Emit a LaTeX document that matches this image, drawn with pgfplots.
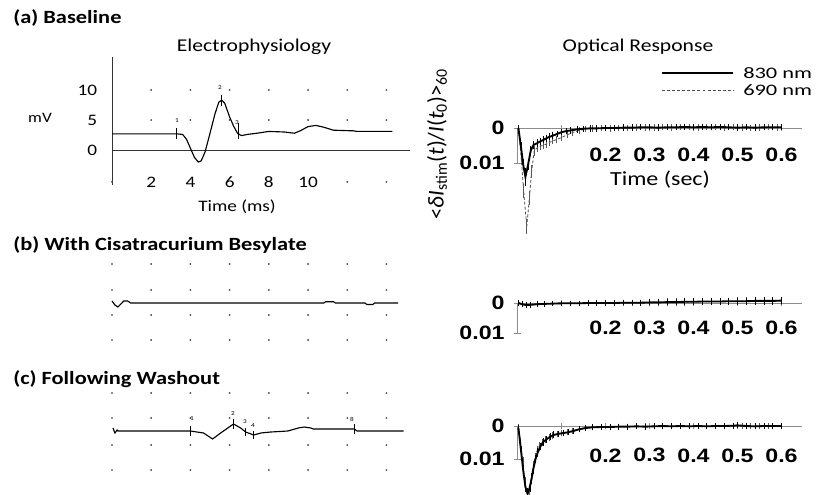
\documentclass[border=0pt]{standalone}
\usepackage{fontspec}
\setmainfont{Carlito}[FakeStretch=1.2]
\newfontfamily\plainfont{Carlito}
\newfontfamily\legfont{Carlito}[FakeStretch=1.4]
\newfontfamily\tickfont{Liberation Sans}[FakeStretch=1.2]
\usepackage{pgfplots}
\pgfplotsset{compat=1.18}

\pgfplotsset{
  ephys/.style={scale only axis, width=223.5pt, clip=false, xmin=0, xmax=15.2},
  trace/.style={black, line width=0.85pt, no marks},
  ticker/.style={only marks, mark=|, black, mark options={line width=0.6pt}, forget plot},
  dots/.style={only marks, mark=*, mark size=0.45pt, black!70, forget plot},
  optic/.style={scale only axis, width=213.5pt, clip=false,
    xmin=0, xmax=0.647, ymin=-0.01, ymax=0, scaled ticks=false,
    axis lines=middle, axis line style={-, black!45, line width=0.6pt},
    hide obscured x ticks=false, hide obscured y ticks=false,
    xtick={0.1,0.2,0.3,0.4,0.5,0.6}, xticklabels={,0.2,0.3,0.4,0.5,0.6},
    ytick={-0.01,0}, yticklabels={0.01,0},
    tick style={black!45, line width=0.6pt}, major tick length=5pt,
    tick label style={font=\tickfont\bfseries\fontsize{14.5}{14.5}\selectfont},
    yticklabel style={anchor=east, inner sep=0pt, xshift=-7pt}},
  s830/.style={black, line width=1.4pt, no marks,
    error bars/.cd, y dir=both, y explicit,
    error bar style={black, line width=0.4pt}, error mark options={black, mark size=1.6pt, line width=0.4pt}},
  s690/.style={black!70, line width=0.6pt, dash pattern=on 2.2pt off 1.5pt, no marks,
    error bars/.cd, y dir=both, y explicit,
    error bar style={black!65, line width=0.4pt, solid}, error mark options={black!65, mark size=1.6pt, line width=0.4pt, solid}},
}

\begin{document}
\begin{tikzpicture}
\useasboundingbox (0,0) rectangle (615pt,-370.5pt);

% ---------------- (a) electrophysiology
\begin{axis}[ephys, at={(84pt,-138.75pt)}, anchor=south west, height=96pt,
  ymin=-5.83, ymax=15.5, axis lines=middle,
  axis line style={-, black!80, line width=0.5pt},
  hide obscured x ticks=false, hide obscured y ticks=false,
  xtick={2,4,6,8,10}, xticklabels={2,4,6,8,10},
  ytick={0,5,10}, yticklabels={0,5,10}, major tick length=0pt,
  tick label style={font=\fontsize{12}{12}\selectfont},
  xticklabel style={anchor=center, yshift=-24pt},
  yticklabel style={anchor=east, inner sep=0pt, xshift=-11pt}]
\addplot[dots] coordinates {
  (2,10) (4,10) (6,10) (8,10) (10,10) (12,10) (14,10)
  (2,5) (4,5) (6,5) (8,5) (10,5) (12,5) (14,5)
  (12,-5.3) (14,-5.3) (0,-5.3)};
\addplot[trace] coordinates {
  (0,2.7) (3.3,2.7) (3.6,2.6) (3.8,1.8) (4.0,0.3) (4.2,-1.2) (4.4,-2.0)
  (4.55,-1.8) (4.75,-0.3) (5.0,2.8) (5.25,6.0) (5.45,8.0) (5.6,8.3)
  (5.75,7.8) (6.0,5.5) (6.2,4.0) (6.4,2.8) (6.6,2.4) (6.9,2.6) (7.4,2.8)
  (8.0,3.1) (8.8,3.0) (9.3,2.8) (9.6,3.2) (10.0,3.9) (10.4,4.1)
  (10.8,3.8) (11.3,3.3) (12.3,3.2) (12.5,3.1) (14.3,3.1)};
\addplot[ticker, mark size=4pt] coordinates {(3.3,2.7) (5.6,8.3)};
\addplot[ticker, mark size=6pt] coordinates {(6.45,3.1)};
\end{axis}

% ---------------- (b) electrophysiology
\begin{axis}[ephys, at={(84pt,-264.75pt)}, anchor=south west, height=75pt,
  ymin=-10, ymax=10, hide axis]
\addplot[dots] coordinates {
  (0,7.8) (2,7.8) (4,7.8) (6,7.8) (8,7.8) (10,7.8) (12,7.8) (14,7.8)
  (0,2.6) (2,2.6) (4,2.6) (6,2.6) (8,2.6) (10,2.6) (12,2.6) (14,2.6)
  (0,-2.4) (2,-2.4) (4,-2.4) (6,-2.4) (8,-2.4) (10,-2.4) (12,-2.4) (14,-2.4)
  (0,-7.4) (2,-7.4) (4,-7.4) (6,-7.4) (8,-7.4) (10,-7.4) (12,-7.4) (14,-7.4)};
\addplot[trace] coordinates {
  (0,0.4) (0.15,-0.4) (0.3,-0.8) (0.45,-0.2) (0.6,0.4) (0.8,0.4) (0.95,0)
  (10.8,0) (10.9,0.25) (11.3,0.25) (11.4,0) (12.9,0) (13.0,-0.3)
  (13.3,-0.3) (13.4,0) (14.6,0)};
\end{axis}

% ---------------- (c) electrophysiology
\begin{axis}[ephys, at={(84pt,-360.75pt)}, anchor=south west, height=75pt,
  ymin=-10, ymax=10, hide axis]
\addplot[dots] coordinates {
  (0,7.6) (2,7.6) (4,7.6) (6,7.6) (8,7.6) (10,7.6) (12,7.6) (14,7.6)
  (0,2.6) (2,2.6) (4,2.6) (6,2.6) (8,2.6) (10,2.6) (12,2.6) (14,2.6)
  (0,-2.8) (2,-2.8) (4,-2.8) (6,-2.8) (8,-2.8) (10,-2.8) (12,-2.8) (14,-2.8)
  (0,-7.8) (2,-7.8) (4,-7.8) (6,-7.8) (8,-7.8) (10,-7.8) (12,-7.8) (14,-7.8)};
\addplot[trace] coordinates {
  (0.05,0.6) (0.15,-0.4) (0.26,0.2) (0.3,0) (4.0,0) (4.67,-0.4) (5.13,-1.6)
  (5.54,-0.4) (6.05,1.0) (6.2,1.4) (6.56,0.6) (6.82,-0.2) (7.23,-0.8)
  (7.59,-0.4) (8.1,-0.2) (8.97,0) (9.5,0.6) (9.8,0.8) (10.15,0.6)
  (10.26,0.4) (12.36,0.4) (12.5,0) (14.87,0)};
\addplot[ticker, mark size=3.5pt] coordinates {(4.0,0) (6.2,1.4) (12.36,0.4)};
\addplot[ticker, mark size=3pt] coordinates {(6.82,-0.2) (7.23,-0.8)};
\end{axis}

% ---------------- (a) optical
\begin{axis}[optic, at={(388.125pt,-122.25pt)}, anchor=south west, height=26.25pt,
  xticklabel style={anchor=center, yshift=-18pt}]
\addplot[s690] table[x index=0, y index=1, y error index=2] {
0.002 0.0000 0.0003
0.008 -0.0080 0.0010
0.014 -0.0180 0.0015
0.021 -0.0282 0.0015
0.027 -0.0200 0.0015
0.032 -0.0125 0.0012
0.038 -0.0065 0.0008
0.045 -0.0056 0.0006
0.052 -0.0052 0.0005
0.059 -0.0049 0.0005
0.066 -0.0046 0.0005
0.073 -0.0041 0.0004
0.080 -0.0037 0.0004
0.089 -0.0033 0.0004
0.100 -0.0027 0.0004
0.112 -0.0020 0.0003
0.125 -0.0013 0.0003
0.140 -0.0007 0.0003
0.155 -0.0003 0.0003
0.170 -0.0001 0.0003
0.190 0.0000 0.0003
0.210 -0.0001 0.0003
0.230 0.0000 0.0003
0.250 0.0000 0.0003
0.270 0.0001 0.0003
0.290 0.0001 0.0003
0.310 0.0001 0.0003
0.330 0.0002 0.0003
0.350 0.0001 0.0003
0.370 0.0002 0.0003
0.390 0.0002 0.0003
0.410 0.0001 0.0003
0.430 0.0002 0.0003
0.450 0.0002 0.0003
0.470 0.0001 0.0003
0.490 0.0002 0.0003
0.510 0.0001 0.0003
0.530 0.0000 0.0003
0.550 0.0001 0.0003
0.570 0.0002 0.0003
0.590 0.0001 0.0003
0.600 0.0002 0.0003
};
\addplot[s830] table[x index=0, y index=1, y error index=2] {
0.002 0.0000 0.0003
0.008 -0.0055 0.0008
0.013 -0.0105 0.0010
0.018 -0.0140 0.0020
0.024 -0.0105 0.0010
0.030 -0.0065 0.0008
0.036 -0.0049 0.0006
0.045 -0.0043 0.0005
0.052 -0.0038 0.0004
0.059 -0.0034 0.0004
0.066 -0.0029 0.0004
0.073 -0.0025 0.0004
0.080 -0.0022 0.0004
0.090 -0.0017 0.0003
0.100 -0.0012 0.0003
0.110 -0.0009 0.0003
0.120 -0.0007 0.0003
0.135 -0.0004 0.0003
0.150 -0.0002 0.0003
0.165 -0.0001 0.0003
0.180 -0.0001 0.0003
0.200 0.0000 0.0003
0.220 0.0000 0.0003
0.240 0.0001 0.0003
0.260 0.0001 0.0003
0.280 0.0002 0.0003
0.300 0.0002 0.0003
0.320 0.0001 0.0003
0.340 0.0002 0.0003
0.360 0.0002 0.0003
0.380 0.0003 0.0003
0.400 0.0002 0.0003
0.420 0.0003 0.0003
0.440 0.0002 0.0003
0.460 0.0003 0.0003
0.480 0.0002 0.0003
0.500 0.0001 0.0003
0.520 0.0002 0.0003
0.540 0.0001 0.0003
0.560 0.0002 0.0003
0.580 0.0002 0.0003
0.600 0.0002 0.0003
};
\end{axis}

% ---------------- (b) optical
\begin{axis}[optic, at={(388.125pt,-249.75pt)}, anchor=south west, height=22.5pt,
  xticklabel style={anchor=center, yshift=-16.5pt}]
\addplot[s690] table[x index=0, y index=1, y error index=2] {
0.002 0.0000 0.0002
0.010 -0.0003 0.0002
0.020 -0.0005 0.0002
0.030 -0.0005 0.0002
0.045 -0.0004 0.0002
0.060 -0.0003 0.0002
0.080 -0.0002 0.0002
0.100 -0.0002 0.0002
0.120 -0.0001 0.0002
0.140 -0.0001 0.0002
0.160 -0.0001 0.0002
0.180 0.0000 0.0002
0.200 0.0000 0.0002
0.220 0.0000 0.0002
0.240 0.0000 0.0002
0.260 0.0001 0.0003
0.280 0.0001 0.0003
0.300 0.0002 0.0004
0.320 0.0002 0.0004
0.340 0.0003 0.0005
0.360 0.0003 0.0005
0.380 0.0003 0.0005
0.400 0.0004 0.0005
0.420 0.0004 0.0005
0.440 0.0005 0.0006
0.460 0.0005 0.0006
0.480 0.0005 0.0006
0.500 0.0006 0.0006
0.520 0.0006 0.0006
0.540 0.0006 0.0006
0.560 0.0007 0.0006
0.580 0.0007 0.0006
0.600 0.0007 0.0006
};
\addplot[s830] table[x index=0, y index=1, y error index=2] {
0.002 0.0000 0.0002
0.010 -0.0004 0.0002
0.020 -0.0007 0.0002
0.030 -0.0006 0.0002
0.045 -0.0004 0.0002
0.060 -0.0003 0.0002
0.080 -0.0002 0.0002
0.100 -0.0001 0.0002
0.120 -0.0001 0.0002
0.140 -0.0001 0.0002
0.160 0.0000 0.0002
0.180 0.0000 0.0002
0.200 0.0000 0.0002
0.220 0.0000 0.0002
0.240 0.0001 0.0002
0.260 0.0001 0.0002
0.280 0.0001 0.0003
0.300 0.0002 0.0003
0.320 0.0002 0.0003
0.340 0.0003 0.0004
0.360 0.0003 0.0004
0.380 0.0004 0.0004
0.400 0.0004 0.0004
0.420 0.0005 0.0004
0.440 0.0005 0.0004
0.460 0.0005 0.0005
0.480 0.0006 0.0005
0.500 0.0006 0.0005
0.520 0.0006 0.0005
0.540 0.0007 0.0005
0.560 0.0007 0.0005
0.580 0.0007 0.0005
0.600 0.0008 0.0005
};
\end{axis}

% ---------------- (c) optical
\begin{axis}[optic, at={(388.125pt,-344.25pt)}, anchor=south west, height=24.75pt,
  xticklabel style={anchor=center, yshift=-19.5pt}]
\addplot[s690] table[x index=0, y index=1, y error index=2] {
0.002 -0.0003 0.0003
0.007 -0.0050 0.0008
0.012 -0.0110 0.0010
0.017 -0.0170 0.0010
0.022 -0.0210 0.0010
0.027 -0.0195 0.0010
0.031 -0.0160 0.0010
0.036 -0.0120 0.0008
0.040 -0.0095 0.0007
0.045 -0.0072 0.0006
0.050 -0.0060 0.0005
0.056 -0.0050 0.0005
0.064 -0.0042 0.0004
0.072 -0.0035 0.0004
0.080 -0.0029 0.0004
0.090 -0.0025 0.0003
0.100 -0.0022 0.0003
0.112 -0.0019 0.0003
0.125 -0.0015 0.0003
0.140 -0.0010 0.0003
0.155 -0.0006 0.0003
0.170 -0.0004 0.0003
0.190 -0.0003 0.0003
0.210 -0.0003 0.0003
0.230 -0.0002 0.0003
0.250 -0.0002 0.0003
0.270 -0.0001 0.0003
0.290 -0.0001 0.0003
0.310 0.0000 0.0003
0.330 -0.0001 0.0003
0.350 0.0000 0.0003
0.370 -0.0001 0.0003
0.390 0.0000 0.0003
0.410 -0.0001 0.0003
0.430 0.0000 0.0003
0.450 -0.0001 0.0003
0.470 0.0000 0.0003
0.490 0.0001 0.0003
0.510 0.0000 0.0003
0.530 -0.0001 0.0003
0.550 0.0000 0.0003
0.570 0.0000 0.0003
0.600 0.0000 0.0003
};
\addplot[s830] table[x index=0, y index=1, y error index=2] {
0.002 -0.0005 0.0003
0.008 -0.0075 0.0008
0.013 -0.0135 0.0010
0.018 -0.0185 0.0010
0.023 -0.0205 0.0010
0.028 -0.0185 0.0010
0.032 -0.0160 0.0010
0.036 -0.0130 0.0008
0.041 -0.0100 0.0007
0.046 -0.0080 0.0006
0.052 -0.0062 0.0005
0.059 -0.0048 0.0005
0.066 -0.0040 0.0004
0.074 -0.0033 0.0004
0.082 -0.0027 0.0004
0.092 -0.0024 0.0003
0.105 -0.0021 0.0003
0.115 -0.0019 0.0003
0.127 -0.0015 0.0003
0.140 -0.0010 0.0003
0.155 -0.0006 0.0003
0.170 -0.0004 0.0003
0.190 -0.0003 0.0003
0.210 -0.0003 0.0003
0.230 -0.0002 0.0003
0.250 -0.0002 0.0003
0.270 -0.0001 0.0003
0.290 -0.0002 0.0003
0.310 -0.0001 0.0003
0.330 0.0000 0.0003
0.350 -0.0001 0.0003
0.370 0.0000 0.0003
0.390 -0.0001 0.0003
0.410 0.0000 0.0003
0.430 -0.0001 0.0003
0.450 0.0000 0.0003
0.470 0.0000 0.0003
0.490 0.0001 0.0003
0.500 0.0002 0.0003
0.520 0.0000 0.0003
0.540 -0.0001 0.0003
0.560 0.0000 0.0003
0.580 0.0000 0.0003
0.600 0.0000 0.0003
};
\end{axis}

% ---------------- texts (pixel coordinates)
\begin{scope}[x=0.75pt, y=-0.75pt]
\node[anchor=west, inner sep=0pt, font=\bfseries\fontsize{14}{14}\selectfont] at (13,18) {(a) Baseline};
\node[anchor=west, inner sep=0pt, font=\bfseries\fontsize{14}{14}\selectfont] at (13,245) {(b) With Cisatracurium Besylate};
\node[anchor=west, inner sep=0pt, font=\bfseries\fontsize{14}{14}\selectfont] at (13,379) {(c) Following Washout};
\node[inner sep=0pt, font=\fontsize{13.5}{13.5}\selectfont] at (254,47) {Electrophysiology};
\node[inner sep=0pt, font=\fontsize{13.5}{13.5}\selectfont] at (638,47) {Optical Response};
\node[inner sep=0pt, font=\fontsize{12}{12}\selectfont] at (237,207) {Time (ms)};
\node[inner sep=0pt, font=\fontsize{10.8}{10.8}\selectfont] at (40,118) {mV};
\node[inner sep=0pt, font=\fontsize{15}{15}\selectfont] at (660,180) {Time (sec)};
\node[inner sep=0pt, rotate=90, font=\plainfont\fontsize{17}{17}\selectfont] at (437,144)
  {<\textit{δI}\textsubscript{stim}(\textit{t})/\textit{I}(\textit{t}\textsubscript{0})>\textsubscript{60}};
% legend
\draw[black, line width=1.8pt] (662,73) -- (733,73);
\draw[black!70, line width=0.6pt, dash pattern=on 2.2pt off 1.6pt] (662,90) -- (733,90);
\node[anchor=west, inner sep=0pt, font=\legfont\fontsize{12}{12}\selectfont] at (743,73) {830 nm};
\node[anchor=west, inner sep=0pt, font=\legfont\fontsize{12}{12}\selectfont] at (743,90) {690 nm};
% small event numbers
\begin{scope}[font=\fontsize{4.5}{4.5}\selectfont, inner sep=0pt]
\node at (177,121) {1}; \node at (220,88) {2}; \node at (237,123) {3};
\node at (192,419) {1}; \node at (233,414) {2}; \node at (245,422) {3};
\node at (253,426) {4}; \node at (352,419) {8};
\end{scope}
\end{scope}
\end{tikzpicture}
\end{document}
